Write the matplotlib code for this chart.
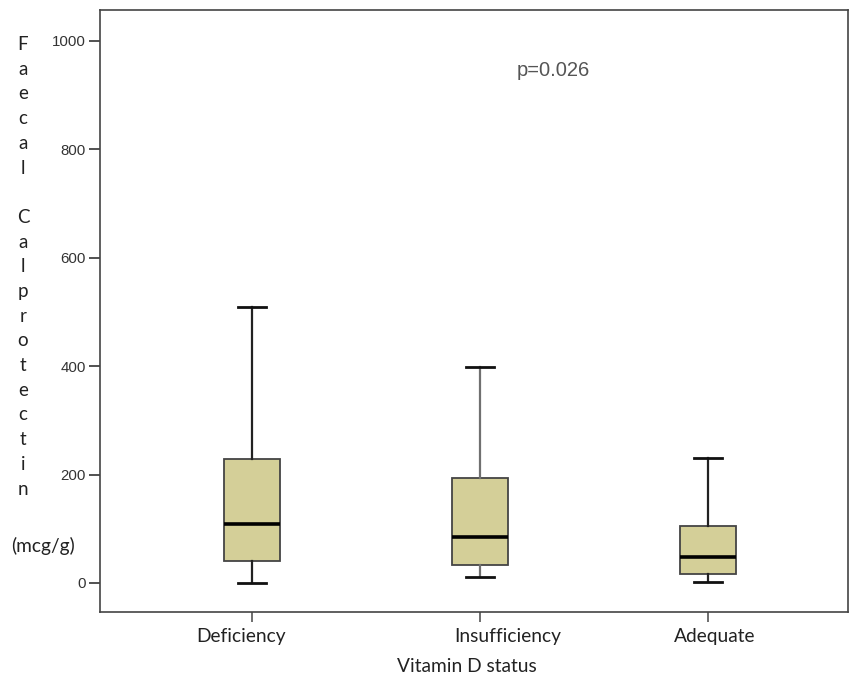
import matplotlib
matplotlib.use('Agg')
import matplotlib.pyplot as plt

# Valores (calprotectina fecal, mcg/g)
categorias = ['Deficiency', 'Insufficiency', 'Adequate']
whisker_baixo = [0, 11, 2]
q1 = [40, 33, 17]
mediana = [109, 85, 48]
q3 = [229, 194, 105]
whisker_alto = [509, 398, 230]
y_ticks = [0, 200, 400, 600, 800, 1000]

stats = []
for i, cat in enumerate(categorias):
    stats.append({'label': cat, 'whislo': whisker_baixo[i], 'q1': q1[i], 'med': mediana[i],
                  'q3': q3[i], 'whishi': whisker_alto[i], 'fliers': []})

fig = plt.figure(figsize=(8.49, 6.82), dpi=100)
ax = fig.add_axes([100 / 849, 1 - 612 / 682, 748 / 849, 602 / 682])

bp = ax.bxp(stats, positions=[1, 2, 3], widths=0.245, patch_artist=True,
            showfliers=False,
            boxprops=dict(facecolor='#D4CF98', edgecolor='#444444', linewidth=1.3),
            medianprops=dict(color='black', linewidth=2.6),
            whiskerprops=dict(color='#222222', linewidth=1.6),
            capprops=dict(color='#111111', linewidth=2.0))
# whisker do meio é mais claro no original
for w in bp['whiskers'][2:4]:
    w.set_color('#707070')

ax.set_xlim(0.333, 3.614)
ax.set_ylim(-53.5, 1057)
ax.set_yticks(y_ticks)
ax.set_yticklabels([str(v) for v in y_ticks], fontfamily='Liberation Sans', fontsize=10.8, color='#333333')
ax.set_xticks([1, 2, 3])
ax.set_xticklabels([])
ax.tick_params(axis='y', direction='out', length=8, width=1.2, color='#333333', pad=2)
ax.tick_params(axis='x', direction='out', length=7, width=1.2, color='#555555')
for s in ax.spines.values():
    s.set_color('#444444')
    s.set_linewidth(1.2)

# rótulos das categorias (levemente deslocados como no original)
offsets = [-0.05, 0.12, 0.03]
for i, cat in enumerate(categorias):
    ax.text(i + 1 + offsets[i], -0.026, cat, transform=ax.get_xaxis_transform(),
            ha='center', va='top', fontfamily='Lato', fontsize=13.8, color='#222222')

fig.text(467 / 849, 1 - 667 / 682, 'Vitamin D status', ha='center', va='center',
         fontfamily='Lato', fontsize=13.8, color='#222222')

# rótulo do eixo y escrito na vertical, letra por letra
letras = 'F\na\ne\nc\na\nl\n\nC\na\nl\np\nr\no\nt\ne\nc\nt\ni\nn'
fig.text(23 / 849, 1 - 36 / 682, letras, ha='center', va='top', fontfamily='Lato',
         fontsize=13.5, color='#222222', linespacing=1.55)
fig.text(43 / 849, 1 - 546 / 682, '(mcg/g)', ha='center', va='center', fontfamily='Lato',
         fontsize=13.8, color='#222222')

ax.text(2.32, 946, 'p=0.026', ha='center', va='center', fontfamily='Liberation Sans',
        fontsize=14.5, color='#555555')

fig.savefig('out.png', dpi=100, facecolor='white')
